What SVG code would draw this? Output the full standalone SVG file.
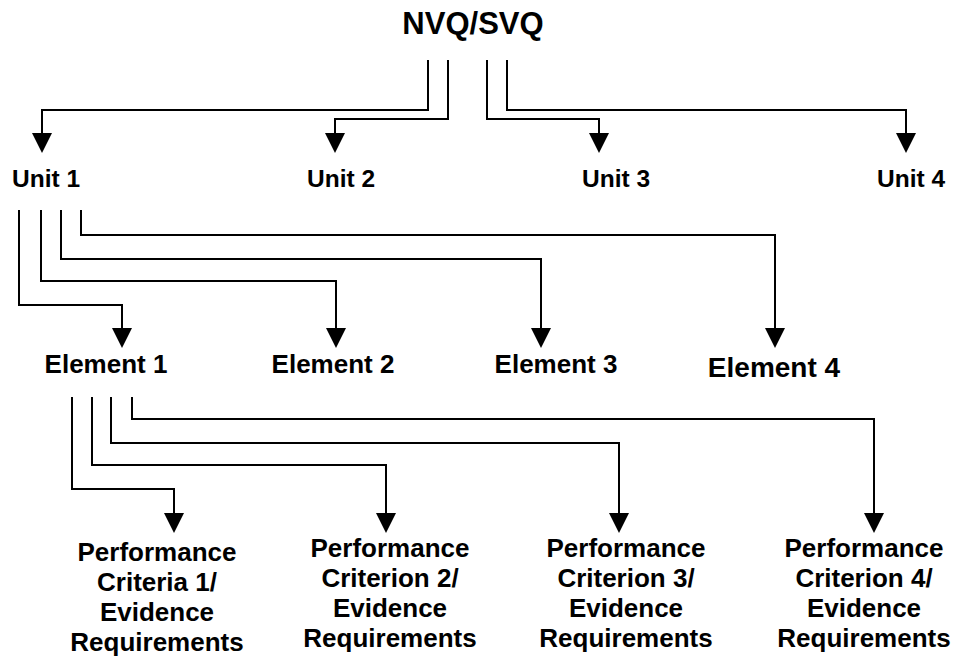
<svg xmlns="http://www.w3.org/2000/svg" width="963" height="657" viewBox="0 0 963 657">
<style>
  .lbl { font-family: "Liberation Sans", Arial, sans-serif; font-weight: bold; fill: #000; text-anchor: middle; }
  .conn { fill: none; stroke: #000; stroke-width: 2; marker-end: url(#arr); }
</style>
<defs>
  <marker id="arr" viewBox="0 0 20 20" refX="18" refY="10" markerWidth="20" markerHeight="20" markerUnits="userSpaceOnUse" orient="auto">
    <path d="M0,0 L20,10 L0,20 Z" fill="#000"/>
  </marker>
</defs>
<rect width="963" height="657" fill="#fff"/>
<g id="connectors">
  <path class="conn" d="M428,60 V110 H42 V151"/>
  <path class="conn" d="M448,60 V119 H335 V151"/>
  <path class="conn" d="M487,60 V119 H599 V151"/>
  <path class="conn" d="M507,60 V110 H906 V151"/>
  <path class="conn" d="M19,210 V305 H122 V346"/>
  <path class="conn" d="M41,210 V281 H336 V346"/>
  <path class="conn" d="M61,210 V259 H541 V346"/>
  <path class="conn" d="M81,210 V235 H775 V346"/>
  <path class="conn" d="M72,397 V489 H174 V531"/>
  <path class="conn" d="M92,397 V465 H386 V531"/>
  <path class="conn" d="M111,397 V443 H619 V531"/>
  <path class="conn" d="M132,397 V419 H874 V531"/>
</g>
<g id="nvq"><text class="lbl" x="473" y="34" font-size="31">NVQ/SVQ</text></g>
<g id="unit1"><text class="lbl" x="46" y="187" font-size="24.5">Unit 1</text></g>
<g id="unit2"><text class="lbl" x="341" y="187" font-size="24.5">Unit 2</text></g>
<g id="unit3"><text class="lbl" x="616" y="187" font-size="24.5">Unit 3</text></g>
<g id="unit4"><text class="lbl" x="911" y="187" font-size="24.5">Unit 4</text></g>
<g id="element1"><text class="lbl" x="106" y="373" font-size="26">Element 1</text></g>
<g id="element2"><text class="lbl" x="333" y="373" font-size="26">Element 2</text></g>
<g id="element3"><text class="lbl" x="556" y="373" font-size="26">Element 3</text></g>
<g id="element4"><text class="lbl" x="774" y="377" font-size="28">Element 4</text></g>
<g id="pc1"><text class="lbl" font-size="26"><tspan x="157" y="561">Performance</tspan><tspan x="157" y="591">Criteria 1/</tspan><tspan x="157" y="621">Evidence</tspan><tspan x="157" y="651">Requirements</tspan></text></g>
<g id="pc2"><text class="lbl" font-size="26"><tspan x="390" y="557">Performance</tspan><tspan x="390" y="587">Criterion 2/</tspan><tspan x="390" y="617">Evidence</tspan><tspan x="390" y="647">Requirements</tspan></text></g>
<g id="pc3"><text class="lbl" font-size="26"><tspan x="626" y="557">Performance</tspan><tspan x="626" y="587">Criterion 3/</tspan><tspan x="626" y="617">Evidence</tspan><tspan x="626" y="647">Requirements</tspan></text></g>
<g id="pc4"><text class="lbl" font-size="26"><tspan x="864" y="557">Performance</tspan><tspan x="864" y="587">Criterion 4/</tspan><tspan x="864" y="617">Evidence</tspan><tspan x="864" y="647">Requirements</tspan></text></g>
</svg>
